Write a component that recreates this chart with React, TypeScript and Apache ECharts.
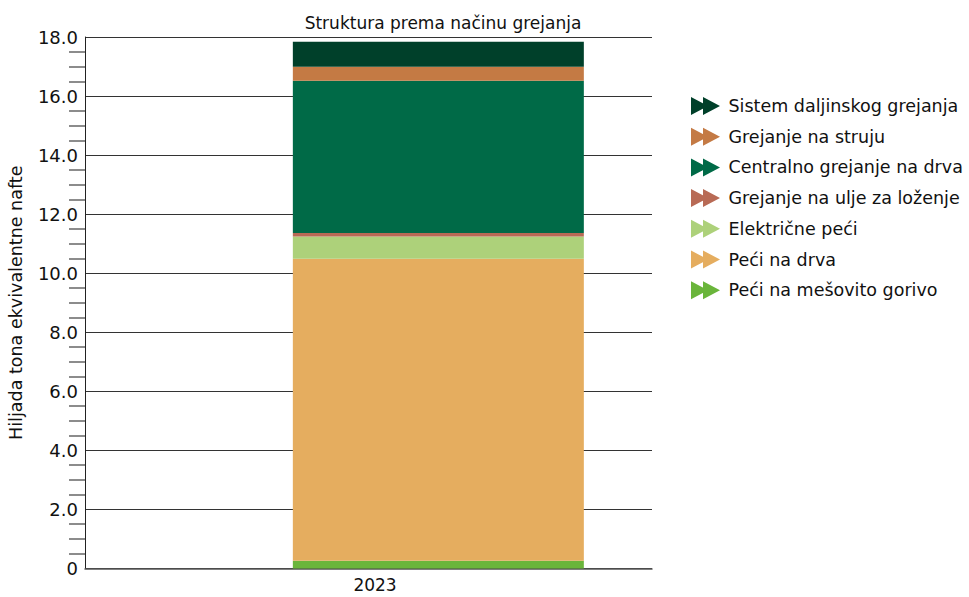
import React, { useEffect, useRef } from "react";
import * as echarts from "echarts";

const categories = ["2023"];
const seriesNames = [
  "Peći na mešovito gorivo",
  "Peći na drva",
  "Električne peći",
  "Grejanje na ulje za loženje",
  "Centralno grejanje na drva",
  "Grejanje na struju",
  "Sistem daljinskog grejanja",
];
const seriesValues = [0.26, 10.23, 0.75, 0.12, 5.16, 0.47, 0.85];
const seriesColors = ["#6ab53b", "#e5ad5f", "#add17a", "#b86a55", "#006a47", "#c47a44", "#00402a"];
const yTicks = { min: 0, max: 18, interval: 2 };
const titleText = "Struktura prema načinu grejanja";
const yAxisName = "Hiljada tona ekvivalentne nafte";

const FONT = "DejaVu Sans";
const ICON = "path://M0,0 L17,9 L0,18 Z M12,0 L29,9 L12,18 Z";

export default function App() {
  const ref = useRef<HTMLDivElement>(null);
  useEffect(() => {
    if (!ref.current) return;
    const chart = echarts.init(ref.current, null, { renderer: "svg" });
    const series: any[] = [
      {
        name: "__spacer",
        type: "bar",
        stack: "a",
        data: categories.map(() => null),
        barWidth: 291,
        barGap: "-52%",
        silent: true,
      },
      ...seriesNames.map((n, i) => ({
        name: n,
        type: "bar",
        stack: "b",
        barWidth: 291,
        barGap: "-52%",
        data: [seriesValues[i]],
        itemStyle: { color: seriesColors[i] },
      })),
    ];
    chart.setOption({
      animation: false,
      textStyle: { fontFamily: FONT },
      title: {
        text: titleText,
        left: 438,
        top: 9,
        textAlign: "center",
        textStyle: { fontFamily: FONT, fontSize: 17, fontWeight: "normal", color: "#111" },
      },
      grid: { left: 85, right: 317, top: 37, bottom: 28.5, containLabel: false, outerBoundsMode: "none" },
      legend: {
        orient: "vertical",
        left: 686,
        top: 92,
        itemWidth: 30,
        itemHeight: 18,
        itemGap: 12.7,
        icon: ICON,
        data: seriesNames.slice().reverse(),
        textStyle: { fontFamily: FONT, fontSize: 17.5, color: "#111", padding: [0, 0, 0, 3] },
        selectedMode: false,
      },
      xAxis: {
        type: "category",
        data: categories,
        axisLine: { lineStyle: { color: "#555", width: 1.5 } },
        axisTick: { show: false },
        axisLabel: { fontFamily: FONT, fontSize: 17, color: "#111", margin: 8, padding: [0, 0, 0, 13] },
      },
      yAxis: {
        type: "value",
        min: yTicks.min,
        max: yTicks.max,
        interval: yTicks.interval,
        name: yAxisName,
        nameLocation: "middle",
        nameGap: 60,
        nameTextStyle: { fontFamily: FONT, fontSize: 17.5, color: "#111" },
        axisLine: { show: true, lineStyle: { color: "#222", width: 1 } },
        axisTick: { show: false },
        minorTick: { show: true, splitNumber: 4, length: 16, lineStyle: { color: "#666", width: 1.5 } },
        splitLine: { show: true, lineStyle: { color: "#333", width: 1 } },
        axisLabel: {
          fontFamily: FONT,
          fontSize: 18,
          color: "#111",
          margin: 7,
          formatter: (v: number) => (v === 0 ? "0" : v.toFixed(1)),
        },
      },
      series,
    });
    return () => chart.dispose();
  }, []);
  return (
    <div
      ref={ref}
      style={{ position: "fixed", left: 0, top: 0, width: 969, height: 597, background: "#fff" }}
    />
  );
}
